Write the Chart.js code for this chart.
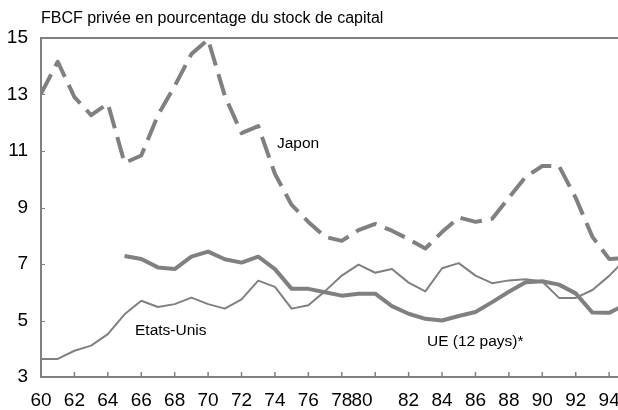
<!DOCTYPE html>
<html><head><meta charset="utf-8">
<script src="https://cdn.jsdelivr.net/npm/chart.js@4/dist/chart.umd.min.js"></script>
<style>html,body{margin:0;padding:0;background:#fff;}canvas{display:block;}</style>
</head><body>
<canvas id="c" width="618" height="410"></canvas>
<script>
// ---- data ----
const years = [60,61,62,63,64,65,66,67,68,69,70,71,72,73,74,75,76,77,78,79,80,81,82,83,84,85,86,87,88,89,90,91,92,93,94,95];
const japon = [13.02,14.16,12.91,12.27,12.68,10.58,10.84,12.27,13.30,14.43,
               14.95,12.95,11.63,11.88,10.19,9.09,8.49,7.96,7.82,8.20,
               8.42,8.18,7.88,7.55,8.13,8.65,8.49,8.60,9.35,10.08,
               10.47,10.47,9.34,7.96,7.18,7.20];
const etatsUnis = [3.64,3.64,3.93,4.11,4.52,5.22,5.70,5.48,5.58,5.81,
                   5.58,5.42,5.75,6.41,6.19,5.42,5.54,6.04,6.59,6.98,
                   6.69,6.82,6.34,6.03,6.85,7.03,6.59,6.32,6.42,6.46,
                   6.38,5.80,5.80,6.08,6.58,7.18];
const ue = [null,null,null,null,null,7.28,7.18,6.88,6.82,7.26,
            7.44,7.17,7.05,7.26,6.82,6.12,6.12,6.00,5.88,5.95,
            5.95,5.51,5.24,5.06,5.00,5.16,5.30,5.65,6.02,6.35,
            6.39,6.27,5.96,5.28,5.27,5.57];
const xTickValues = [60,62,64,66,68,70,72,74,76,78,80,82,84,86,88,90,92,94];
const yTickValues = [3,5,7,9,11,13,15];
const titleText = "FBCF privée en pourcentage du stock de capital";
const seriesNames = ["Japon","Etats-Unis","UE (12 pays)*"];

// ---- chart ----
const GREY = '#808080';
const FONT = "'Liberation Sans', Arial, sans-serif";
const toXY = arr => years.map((x,i)=>({x:x, y:arr[i]}));

const decor = {
  id:'decor',
  afterDraw(chart){
    const {ctx, chartArea:a, scales:{x, y}} = chart;
    ctx.save();
    ctx.strokeStyle = GREY;
    ctx.lineWidth = 2;
    const top = y.getPixelForValue(15);
    ctx.beginPath(); ctx.moveTo(a.left-1, top); ctx.lineTo(a.right, top); ctx.stroke();
    ctx.lineWidth = 1.5;
    const bot = y.getPixelForValue(3);
    xTickValues.forEach(v=>{
      const px = x.getPixelForValue(v);
      ctx.beginPath(); ctx.moveTo(px, bot); ctx.lineTo(px, bot-5); ctx.stroke();
    });
    ctx.lineWidth = 1;
    yTickValues.forEach(v=>{
      const py = Math.round(y.getPixelForValue(v))+0.5;
      ctx.beginPath(); ctx.moveTo(a.left, py); ctx.lineTo(a.left+4, py); ctx.stroke();
    });
    ctx.fillStyle = '#000';
    ctx.textBaseline = 'middle';
    ctx.textAlign = 'left';
    ctx.font = "16px " + FONT;
    ctx.fillText(titleText, 41, 18.5);
    ctx.font = "15.5px " + FONT;
    ctx.fillText(seriesNames[0], 277, 144);
    ctx.fillText(seriesNames[1], 135, 331);
    ctx.fillText(seriesNames[2], 427, 342);
    ctx.restore();
  }
};

new Chart(document.getElementById('c'), {
  type:'line',
  data:{
    datasets:[
      {label:seriesNames[1], data:toXY(etatsUnis), borderColor:GREY, borderWidth:2, pointRadius:0, tension:0, borderJoinStyle:'round'},
      {label:seriesNames[2], data:toXY(ue), borderColor:GREY, borderWidth:4, pointRadius:0, tension:0, borderJoinStyle:'round', spanGaps:false},
      {label:seriesNames[0], data:toXY(japon), borderColor:GREY, borderWidth:4, pointRadius:0, tension:0, borderDash:[22,9], borderCapStyle:'butt', borderJoinStyle:'round'}
    ]
  },
  options:{
    responsive:false, animation:false, devicePixelRatio:1,
    layout:{padding:{top:38,left:0,right:0,bottom:0}},
    plugins:{legend:{display:false}, tooltip:{enabled:false}, title:{display:false}},
    scales:{
      x:{type:'linear', min:60, max:94.53,
        grid:{display:false, drawTicks:false},
        border:{display:true, color:GREY, width:2},
        afterBuildTicks(s){ s.ticks = xTickValues.map(v=>({value:v})); },
        afterFit(s){ s.height = 33; s.paddingLeft = 0; s.paddingRight = 0; },
        ticks:{autoSkip:false, maxRotation:0, padding:12, color:'#000', font:{family:FONT, size:19},
          callback(v){ const t = String(v); return v===80 ? t+'     ' : t; }}
      },
      y:{type:'linear', min:3, max:15,
        grid:{display:false, drawTicks:false},
        border:{display:true, color:GREY, width:2},
        afterBuildTicks(s){ s.ticks = yTickValues.map(v=>({value:v})); },
        afterFit(s){ s.width = 41; s.paddingTop = 0; s.paddingBottom = 0; },
        ticks:{padding:13, color:'#000', font:{family:FONT, size:19}}
      }
    }
  },
  plugins:[decor]
});
</script>
</body></html>
